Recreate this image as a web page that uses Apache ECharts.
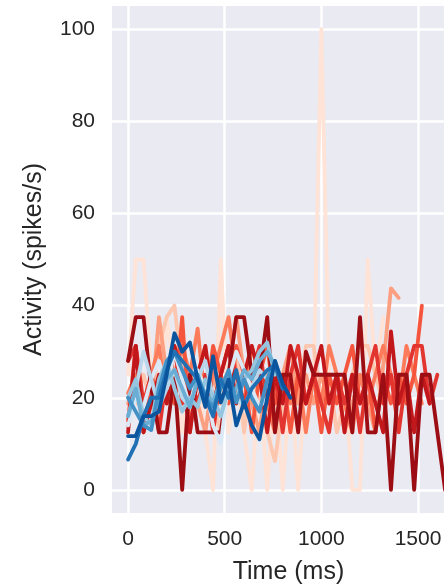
<!DOCTYPE html>
<html>
<head>
<meta charset="utf-8">
<script src="https://cdn.jsdelivr.net/npm/echarts@6/dist/echarts.min.js"></script>
<style>
html,body{margin:0;padding:0;background:#fff;overflow:hidden;}
#chart{width:444px;height:584px;}
</style>
</head>
<body>
<div id="chart"></div>
<script>
// Time points (ms)
const times = [0, 40, 80, 120, 160, 200, 240, 280, 320, 360, 400, 440, 480, 520, 560, 600, 640, 680, 720, 760, 800, 840, 880, 920, 960, 1000, 1040, 1080, 1120, 1160, 1200, 1240, 1280, 1320, 1360, 1400, 1440, 1480, 1520, 1560, 1600, 1640];

// Red traces (light -> dark)
const red1 = [25, 50, 50, 25, 12.5, 37.5, 25, 12.5, 25, 25, 12.5, 0, 50, 12.5, 25, 12.5, 0, 25, 0, 25, 0, 25, 0, 25, 25, 100, 25, 12.5, 25, 0, 0, 50, 25, 37.5];
const red2 = [20, 18.75, 25, 18.75, 31.25, 37.5, 40, 25, 18.75, 25, 31.25, 18.75, 12.5, 25, 31.25, 12.5, 25, 18.75, 12.5, 6.25, 18.75, 25, 18.75, 31.25, 31.25, 18.75, 25, 12.5, 18.75, 25, 31.25, 31.25, 25, 18.75, 25, 18.75];
const red3 = [18.75, 25, 12.5, 18.75, 37.5, 25, 18.75, 31.25, 25, 18.75, 12.5, 25, 18.75, 25, 37.5, 25, 18.75, 12.5, 25, 18.75, 25, 31.25, 18.75, 25, 18.75, 25, 18.75, 25, 12.5, 18.75, 25, 18.75, 12.5, 27, 43.75, 41.67];
const red4 = [21, 25, 18.75, 25, 31.25, 18.75, 25, 31.25, 25, 35, 18.75, 25, 31.25, 37.5, 25, 18.75, 31.25, 25, 18.75, 12.5, 25, 18.75, 25, 12.5, 25, 18.75, 31.25, 25, 18.75, 12.5, 25, 18.75, 25, 31.25, 25, 18.75, 31.25, 25, 18.75];
const red5 = [15, 31.25, 12.5, 25, 18.75, 25, 18.75, 37.5, 12.5, 25, 18.75, 31.25, 25, 18.75, 31.25, 25, 12.5, 25, 31.25, 18.75, 25, 12.5, 25, 18.75, 25, 12.5, 25, 18.75, 25, 31.25, 18.75, 25, 12.5, 25, 18.75, 25, 18.75, 25, 40];
const red6 = [28, 31.25, 18.75, 25, 12.5, 25, 31.25, 18.75, 25, 18.75, 25, 12.5, 25, 31.25, 25, 18.75, 25, 31.25, 18.75, 25, 12.5, 25, 31.25, 18.75, 25, 18.75, 12.5, 25, 18.75, 25, 12.5, 25, 31.25, 18.75, 25, 12.5, 25, 31.25, 31.25, 18.75, 25];
const red7 = [12.5, 31.25, 12.5, 18.75, 25, 18.75, 31.25, 25, 12.5, 25, 31.25, 18.75, 25, 31.25, 18.75, 25, 31.25, 25, 12.5, 25, 18.75, 31.25, 25, 18.75, 25, 31.25, 18.75, 25, 12.5, 25, 18.75, 25, 18.75, 12.5, 34.4, 18.75, 25, 12.5, 25, 18.75];
const red8 = [28, 37.5, 37.5, 21.9, 12.5, 12.5, 25, 0, 25, 12.5, 12.5, 12.5, 12.5, 25, 37.5, 37.5, 25, 25, 37.5, 12.5, 25, 25, 12.5, 30, 25, 25, 25, 25, 25, 12.5, 37.5, 12.5, 12.5, 25, 0, 25, 25, 0, 25, 25, 12.5, 0];

// Blue traces (light -> dark)
const blue1 = [14, 20, 18, 24, 28, 22, 30, 24, 18, 26, 22, 14, 10, 24, 30, 26, 22, 18, 20];
const blue2 = [16, 22, 30, 24, 18, 22, 26, 20, 18, 24, 28, 20, 16, 24, 20, 18, 22, 26, 24];
const blue3 = [20, 24, 16, 14, 24, 28, 22, 17, 20, 18, 24, 20, 16, 22, 20, 24, 26, 30, 32, 25];
const blue4 = [16, 22, 14, 15, 20, 24, 26, 22, 18, 24, 21, 19, 24, 20, 22, 26, 24, 28, 30, 27];
const blue5 = [20, 17, 14, 13, 22, 28, 30, 26, 22, 25, 20, 18, 22, 26, 19, 24, 20, 17, 24, 28, 22];
const blue6 = [6.6, 10, 16, 20, 20, 26, 30, 28, 26, 24, 20, 16, 24, 20, 26, 18, 22, 24, 26, 27, 22];
const blue7 = [11.7, 11.7, 16, 16, 17, 25, 34, 30, 32, 24, 18, 29, 19, 24, 14, 19, 14, 11, 20, 28, 23, 20];

const redColors = ['#fee3d6', '#fdc6af', '#fc9f81', '#fb7b5b', '#f5553c', '#e33530', '#c2181c', '#9c0d14'];
const blueColors = ['#dbe9f6', '#bad6eb', '#95c5df', '#6aaed6', '#4191c6', '#2070b4', '#0b559f'];

const reds = [red1, red2, red3, red4, red5, red6, red7, red8];
const blues = [blue1, blue2, blue3, blue4, blue5, blue6, blue7];

const xTicks = [0, 500, 1000, 1500];
const yTicks = [0, 20, 40, 60, 80, 100];

function mk(vals, color) {
  return {
    type: 'line',
    data: vals.map((v, i) => [times[i], v]),
    showSymbol: false,
    symbol: 'none',
    lineStyle: { color: color, width: 3.8, join: 'round', cap: 'round' },
    itemStyle: { color: color },
    animation: false,
    z: 3
  };
}

const series = [];
reds.forEach((r, i) => series.push(mk(r, redColors[i])));
blues.forEach((b, i) => series.push(mk(b, blueColors[i])));

const textColor = '#262626';
const font = 'Liberation Sans, Arial, Helvetica, sans-serif';

const chart = echarts.init(document.getElementById('chart'), null, { renderer: 'canvas' });
chart.setOption({
  animation: false,
  grid: {
    left: 112, width: 353, top: 6, height: 507,
    containLabel: false,
    outerBoundsMode: 'none',
    show: true, backgroundColor: '#eaeaf2', borderWidth: 0
  },
  xAxis: {
    type: 'value',
    min: -83, max: 1743,
    splitNumber: 3,
    name: 'Time (ms)',
    nameLocation: 'middle',
    nameGap: 47,
    nameTextStyle: { fontSize: 25, color: textColor, fontFamily: font },
    axisLine: { show: false },
    axisTick: { show: false },
    axisLabel: {
      fontSize: 21, color: textColor, fontFamily: font, margin: 16,
      showMinLabel: false, showMaxLabel: false,
      formatter: v => (xTicks.indexOf(v) >= 0 ? String(v) : '')
    },
    splitLine: { show: true, showMinLine: false, showMaxLine: false, lineStyle: { color: '#ffffff', width: 2.5 } }
  },
  yAxis: {
    type: 'value',
    min: -5, max: 105,
    splitNumber: 5,
    name: 'Activity (spikes/s)',
    nameLocation: 'middle',
    nameGap: 65,
    nameTextStyle: { fontSize: 25, color: textColor, fontFamily: font },
    axisLine: { show: false },
    axisTick: { show: false },
    axisLabel: {
      fontSize: 21, color: textColor, fontFamily: font, margin: 17,
      showMinLabel: false, showMaxLabel: false,
      formatter: v => (yTicks.indexOf(v) >= 0 ? String(v) : '')
    },
    splitLine: { show: true, showMinLine: false, showMaxLine: false, lineStyle: { color: '#ffffff', width: 2.5 } }
  },
  series: series
});
</script>
</body>
</html>
